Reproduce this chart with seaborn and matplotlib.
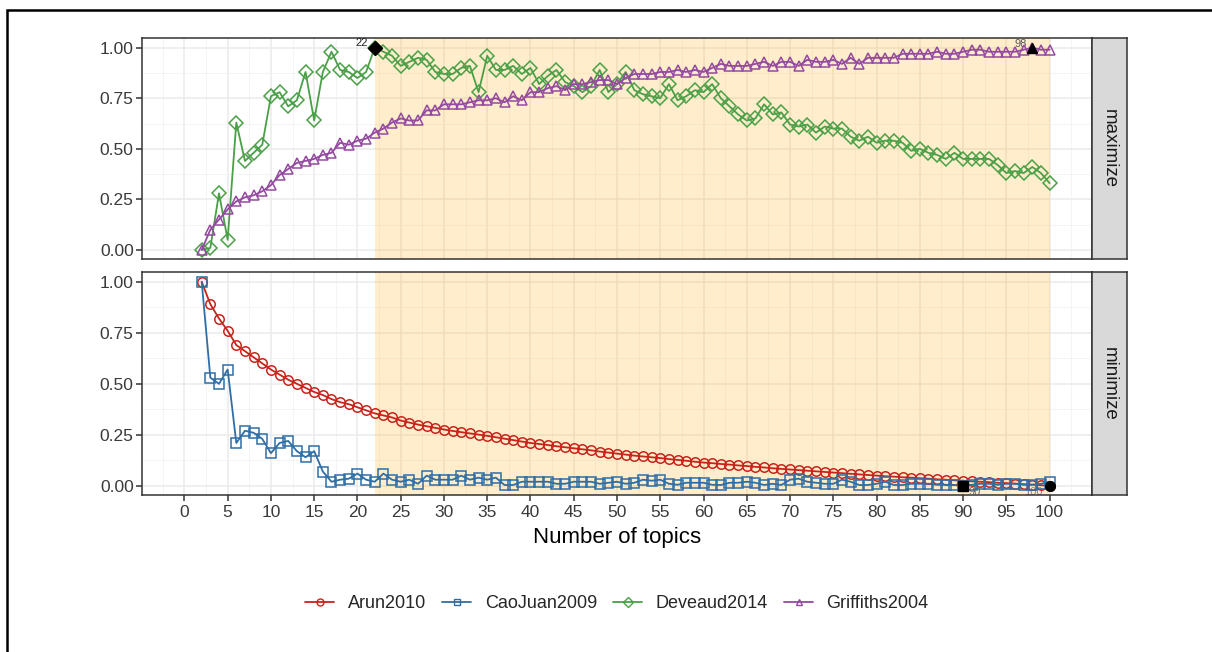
import pandas as pd
import seaborn as sns
from matplotlib import pyplot as plt
from matplotlib.lines import Line2D
from matplotlib.patches import Rectangle

# values, number of topics 2..100
topics = list(range(2, 101))

arun2010 = [1.00, 0.89, 0.82, 0.76, 0.69, 0.66, 0.63, 0.60, 0.57,
            0.545, 0.52, 0.50, 0.48, 0.46, 0.445, 0.425, 0.41, 0.40, 0.385,
            0.37, 0.355, 0.345, 0.335, 0.32, 0.31, 0.30, 0.292, 0.284, 0.276,
            0.269, 0.263, 0.257, 0.251, 0.245, 0.238, 0.231, 0.224, 0.217, 0.21,
            0.205, 0.20, 0.194, 0.189, 0.184, 0.179, 0.174, 0.168, 0.163, 0.158,
            0.153, 0.148, 0.144, 0.14, 0.136, 0.131, 0.127, 0.123, 0.118, 0.114,
            0.111, 0.107, 0.104, 0.10, 0.097, 0.093, 0.09, 0.086, 0.083, 0.08,
            0.077, 0.074, 0.071, 0.068, 0.065, 0.062, 0.059, 0.056, 0.053, 0.05,
            0.047, 0.045, 0.042, 0.04, 0.037, 0.035, 0.032, 0.03, 0.027, 0.025,
            0.022, 0.02, 0.018, 0.015, 0.013, 0.011, 0.008, 0.006, 0.003, 0.0]

caojuan2009 = [1.00, 0.53, 0.50, 0.57, 0.21, 0.27, 0.26, 0.23, 0.16,
               0.21, 0.22, 0.17, 0.14, 0.17, 0.07, 0.02, 0.03, 0.035, 0.06,
               0.03, 0.02, 0.06, 0.03, 0.02, 0.03, 0.01, 0.05, 0.03, 0.03,
               0.03, 0.05, 0.03, 0.04, 0.03, 0.04, 0.004, 0.004, 0.02, 0.02,
               0.02, 0.02, 0.01, 0.01, 0.02, 0.02, 0.02, 0.01, 0.015, 0.02,
               0.01, 0.015, 0.03, 0.025, 0.03, 0.01, 0.005, 0.015, 0.015, 0.015,
               0.005, 0.004, 0.015, 0.015, 0.02, 0.015, 0.004, 0.01, 0.004, 0.03,
               0.035, 0.02, 0.015, 0.01, 0.01, 0.03, 0.02, 0.004, 0.004, 0.01,
               0.02, 0.004, 0.004, 0.01, 0.01, 0.01, 0.005, 0.005, 0.004, 0.0,
               0.005, 0.01, 0.01, 0.005, 0.01, 0.01, 0.005, 0.005, 0.01, 0.02]

deveaud2014 = [0.00, 0.01, 0.28, 0.05, 0.63, 0.44, 0.48, 0.52, 0.76,
               0.78, 0.71, 0.74, 0.88, 0.64, 0.88, 0.98, 0.89, 0.88, 0.85,
               0.88, 1.00, 0.98, 0.96, 0.91, 0.93, 0.95, 0.94, 0.88, 0.87,
               0.87, 0.90, 0.91, 0.78, 0.96, 0.89, 0.89, 0.91, 0.87, 0.90,
               0.82, 0.86, 0.89, 0.83, 0.81, 0.78, 0.81, 0.89, 0.78, 0.82,
               0.88, 0.79, 0.77, 0.76, 0.75, 0.82, 0.74, 0.76, 0.79, 0.78,
               0.82, 0.75, 0.71, 0.67, 0.64, 0.65, 0.72, 0.67, 0.68, 0.62,
               0.61, 0.62, 0.58, 0.61, 0.60, 0.60, 0.56, 0.54, 0.56, 0.53,
               0.54, 0.54, 0.53, 0.49, 0.50, 0.48, 0.47, 0.45, 0.48, 0.45,
               0.45, 0.45, 0.45, 0.42, 0.38, 0.39, 0.38, 0.41, 0.38, 0.33]

griffiths2004 = [0.00, 0.10, 0.15, 0.20, 0.24, 0.26, 0.27, 0.29, 0.32,
                 0.37, 0.40, 0.43, 0.44, 0.45, 0.47, 0.48, 0.53, 0.52, 0.54,
                 0.55, 0.58, 0.60, 0.63, 0.65, 0.64, 0.64, 0.69, 0.69, 0.72,
                 0.72, 0.72, 0.73, 0.74, 0.74, 0.75, 0.73, 0.76, 0.74, 0.78,
                 0.78, 0.80, 0.81, 0.79, 0.82, 0.82, 0.83, 0.84, 0.84, 0.82,
                 0.85, 0.87, 0.87, 0.87, 0.88, 0.88, 0.89, 0.88, 0.89, 0.88,
                 0.90, 0.92, 0.91, 0.91, 0.91, 0.92, 0.93, 0.91, 0.93, 0.93,
                 0.91, 0.94, 0.93, 0.93, 0.94, 0.92, 0.95, 0.92, 0.95, 0.95,
                 0.95, 0.95, 0.97, 0.97, 0.97, 0.97, 0.98, 0.97, 0.97, 0.98,
                 0.99, 0.99, 0.98, 0.98, 0.98, 0.98, 0.99, 1.00, 0.99, 0.99]

metric_names = ['Arun2010', 'CaoJuan2009', 'Deveaud2014', 'Griffiths2004']
directions = {'Arun2010': 'minimize', 'CaoJuan2009': 'minimize',
              'Deveaud2014': 'maximize', 'Griffiths2004': 'maximize'}
colors = {'Arun2010': '#C8241C', 'CaoJuan2009': '#2F6EA5',
          'Deveaud2014': '#4AA047', 'Griffiths2004': '#944AA0'}
markers = {'Arun2010': 'o', 'CaoJuan2009': 's', 'Deveaud2014': 'D', 'Griffiths2004': '^'}
best_topics = {'Deveaud2014': 22, 'Griffiths2004': 98, 'CaoJuan2009': 90, 'Arun2010': 100}
shade_from, shade_to = 22, 100

series = {'Arun2010': arun2010, 'CaoJuan2009': caojuan2009,
          'Deveaud2014': deveaud2014, 'Griffiths2004': griffiths2004}
frames = []
for name in metric_names:
    frames.append(pd.DataFrame({'topics': topics, 'value': series[name],
                                'metric': name, 'direction': directions[name]}))
df = pd.concat(frames, ignore_index=True)

sns.set_theme(style='whitegrid')
plt.rcParams['font.family'] = ['Liberation Sans', 'DejaVu Sans']

W, H = 1212, 652
fig = plt.figure(figsize=(W / 100, H / 100), dpi=100)


def px_box(left, top, right, bottom):
    return [left / W, 1 - bottom / H, (right - left) / W, (bottom - top) / H]


panels = {'maximize': px_box(142, 38, 1092, 259), 'minimize': px_box(142, 272, 1092, 495)}
strips = {'maximize': px_box(1092, 38, 1127, 259), 'minimize': px_box(1092, 272, 1127, 495)}

for direction, box in panels.items():
    ax = fig.add_axes(box)
    sub = df[df['direction'] == direction]
    names = [m for m in metric_names if directions[m] == direction]

    ax.axvspan(shade_from, shade_to, color='orange', alpha=0.2, lw=0, zorder=1)
    sns.lineplot(data=sub, x='topics', y='value', hue='metric', style='metric',
                 hue_order=names, style_order=names,
                 palette={m: colors[m] for m in names},
                 markers={m: markers[m] for m in names}, dashes=False,
                 estimator=None, legend=False, ax=ax, lw=1.3, markersize=6.8, zorder=3)
    for line in ax.lines:
        line.set_markerfacecolor('none')
        line.set_markeredgecolor(line.get_color())
        line.set_markeredgewidth(1.1)

    for m in names:
        bx = best_topics[m]
        by = series[m][topics.index(bx)]
        ms = 7.5 if markers[m] == 'D' else 7
        ax.plot([bx], [by], marker=markers[m], color='black', ms=ms, ls='none', zorder=4)
    if direction == 'maximize':
        ax.text(21.2, 1.0, '22', ha='right', va='bottom', fontsize=8, color='#222222')
        ax.text(97.4, 0.995, '98', ha='right', va='bottom', fontsize=8, color='#555555', zorder=2)
    else:
        ax.text(90.6, -0.005, '90', ha='left', va='top', fontsize=8, color='#666666')
        ax.text(99.2, -0.005, '100', ha='right', va='top', fontsize=8, color='#888888', zorder=2)

    ax.set_xticks(range(0, 101, 5))
    ax.set_xticks([x + 2.5 for x in range(-5, 105, 5)], minor=True)
    ax.set_yticks([0, 0.25, 0.5, 0.75, 1.0])
    ax.set_yticklabels(['0.00', '0.25', '0.50', '0.75', '1.00'])
    ax.set_yticks([-0.125 + 0.25 * i for i in range(6)], minor=True)
    ax.set_xlim(-4.9, 104.9)
    ax.set_ylim(-0.045, 1.048)
    ax.set_axisbelow(True)
    ax.grid(which='major', color='#EBEBEB', lw=1.1)
    ax.grid(which='minor', color='#F2F2F2', lw=0.6)
    ax.set_facecolor('white')
    for sp in ax.spines.values():
        sp.set_color('#333333')
        sp.set_linewidth(1.1)
    ax.tick_params(which='major', length=4, width=1.1, color='#333333',
                   labelsize=12.5, labelcolor='#3A3A3A', pad=2)
    ax.tick_params(which='minor', length=0)
    ax.tick_params(axis='x', bottom=True, pad=3)
    ax.tick_params(axis='y', left=True)
    ax.set_xlabel('')
    ax.set_ylabel('')
    if direction == 'maximize':
        ax.tick_params(axis='x', bottom=False, labelbottom=False)

for direction, box in strips.items():
    sax = fig.add_axes(box)
    sax.set_facecolor('#D9D9D9')
    sax.set_xticks([])
    sax.set_yticks([])
    sax.grid(False)
    for sp in sax.spines.values():
        sp.set_color('#333333')
        sp.set_linewidth(1.1)
    sax.text(0.5, 0.5, direction, rotation=-90, ha='center', va='center',
             fontsize=13.5, color='#1A1A1A', transform=sax.transAxes)

fig.text(617 / W, 1 - 538 / H, 'Number of topics', ha='center', va='center',
         fontsize=16, color='black')

handles = [Line2D([0], [0], color=colors[m], lw=1.3, marker=markers[m], ms=5,
                  mfc='none', mec=colors[m], mew=1.0) for m in metric_names]
fig.legend(handles, metric_names, loc='center', bbox_to_anchor=(617 / W, 1 - 604 / H),
           ncol=4, frameon=False, fontsize=13, handlelength=1.6,
           handletextpad=0.75, columnspacing=0.9)

fig.add_artist(Rectangle((7 / W, -0.1), 1.2, 1.1 - 10 / H, transform=fig.transFigure,
                         fill=False, lw=1.8, ec='black'))

fig.savefig('out.png', dpi=100)
